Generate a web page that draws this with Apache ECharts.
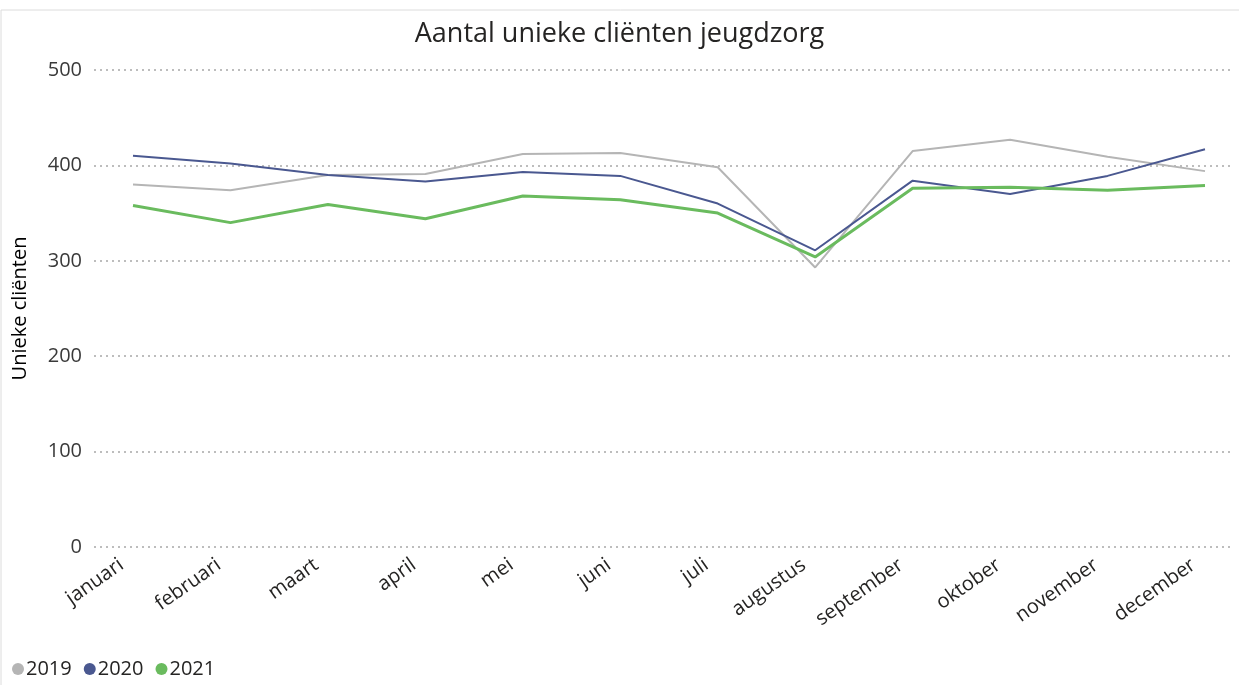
<!DOCTYPE html>
<html>
<head>
<meta charset="utf-8">
<script src="https://cdn.jsdelivr.net/npm/echarts@6/dist/echarts.min.js"></script>
<style>
  html, body { margin: 0; padding: 0; background: #fff; }
  #chart { width: 1239px; height: 685px; }
</style>
</head>
<body>
<div id="chart"></div>
<script>
const months = ['januari', 'februari', 'maart', 'april', 'mei', 'juni', 'juli',
  'augustus', 'september', 'oktober', 'november', 'december']
const yTicks = [0, 100, 200, 300, 400, 500]
const clients2019 = [380, 374, 390, 391, 412, 413, 398, 293, 415, 427, 409, 394]
const clients2020 = [410, 402, 390, 383, 393, 389, 360, 311, 384, 370, 389, 417]
const clients2021 = [358, 340, 359, 344, 368, 364, 350, 304, 376, 377, 374, 379]

const font = '"Open Sans", "Noto Sans", sans-serif'
const chart = echarts.init(document.getElementById('chart'))

const lineSeries = (name, data, color, width) => ({
  name,
  type: 'line',
  xAxisIndex: 0,
  yAxisIndex: 0,
  data,
  symbol: 'none',
  lineStyle: { color, width },
  itemStyle: { color }
})

chart.setOption({
  animation: false,
  textStyle: { fontFamily: font },
  title: {
    text: 'Aantal unieke cliënten jeugdzorg',
    left: 'center',
    top: 16,
    textStyle: { fontFamily: font, fontSize: 27, fontWeight: 'normal', color: '#252423' }
  },
  graphic: [{
    type: 'rect',
    shape: { x: 1, y: 10, width: 1400, height: 800 },
    style: { fill: 'none', stroke: '#dcdcdc', lineWidth: 1 },
    silent: true
  }],
  legend: {
    left: 7,
    bottom: 1,
    icon: 'circle',
    itemWidth: 12,
    itemHeight: 12,
    itemGap: 12,
    textStyle: { fontFamily: font, fontSize: 20, color: '#252423', padding: [0, 0, 0, -3] },
    data: ['2019', '2020', '2021']
  },
  grid: [
    // data area: first and last month sit on the edges
    { left: 133, right: 34, top: 70, bottom: 138 },
    // gridline area, a bit wider than the data
    { left: 94, right: 7, top: 70, bottom: 138 }
  ],
  xAxis: [
    {
      type: 'category',
      gridIndex: 0,
      boundaryGap: false,
      data: months,
      axisLine: { show: false },
      axisTick: { show: false },
      axisLabel: {
        rotate: 35,
        margin: 8,
        fontSize: 20,
        color: '#252423',
        fontFamily: font,
        padding: [0, 14, 0, 0]
      }
    },
    { type: 'category', gridIndex: 1, show: false, data: months }
  ],
  yAxis: [
    { type: 'value', gridIndex: 0, min: 0, max: 500, interval: 100, show: false },
    {
      type: 'value',
      gridIndex: 1,
      min: yTicks[0],
      max: yTicks[yTicks.length - 1],
      interval: 100,
      name: 'Unieke cliënten',
      nameLocation: 'middle',
      nameGap: 64,
      nameTextStyle: { fontFamily: font, fontSize: 20, color: '#000' },
      axisLine: { show: false },
      axisTick: { show: false },
      axisLabel: { margin: 12, fontSize: 20, color: '#3a3a3a', fontFamily: font },
      splitLine: { lineStyle: { type: [2, 4], color: '#bdbdbd', width: 2 } }
    }
  ],
  series: [
    lineSeries('2019', clients2019, '#b5b5b5', 2),
    lineSeries('2020', clients2020, '#4a5890', 2),
    lineSeries('2021', clients2021, '#6abb5e', 3)
  ]
})
</script>
</body>
</html>
